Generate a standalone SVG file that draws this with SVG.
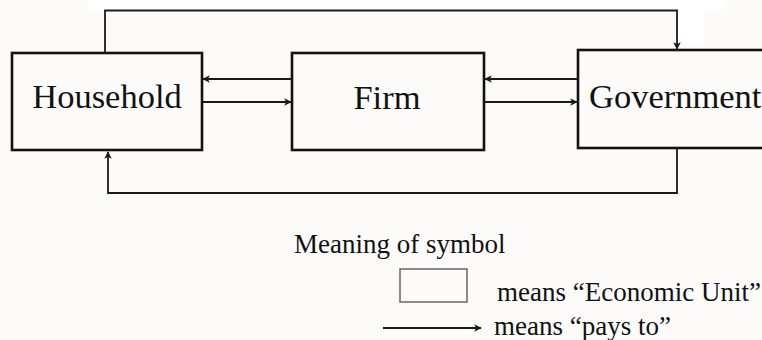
<svg xmlns="http://www.w3.org/2000/svg" width="762" height="340" viewBox="0 0 762 340">
  <style>
    .unit { fill: none; stroke: #111; stroke-width: 2.6; }
    .flow { fill: none; stroke: #1a1a1a; stroke-width: 1.8; }
    text { fill: #111; font-family: "Liberation Serif", "Times New Roman", serif; }
    .big { font-size: 34.5px; }
    .small { font-size: 27px; }
  </style>
  <defs>
    <marker id="head" viewBox="0 0 10 10" refX="9" refY="5" markerWidth="4.2" markerHeight="4.2" orient="auto" markerUnits="strokeWidth">
      <path d="M0,0 L10,5 L0,10 L2.5,5 Z" fill="#1a1a1a"/>
    </marker>
  </defs>
  <!-- paper -->
  <rect x="0" y="0" width="762" height="340" fill="#fcfbfa"/>
  <rect x="88" y="0" width="636" height="10" fill="#ffffff"/>
  <rect x="676" y="0" width="28" height="44" fill="#ffffff"/>

  <g id="household">
    <rect class="unit" x="12" y="53" width="190" height="97"/>
    <text class="big" x="107" y="108" text-anchor="middle">Household</text>
  </g>
  <g id="firm">
    <rect class="unit" x="292" y="53" width="192" height="97"/>
    <text class="big" x="387" y="109" text-anchor="middle">Firm</text>
  </g>
  <g id="government">
    <rect class="unit" x="578" y="50" width="200" height="98"/>
    <text class="big" x="589" y="108">Government</text>
  </g>

  <g id="connectors">
    <!-- Household to Government over the top -->
    <polyline class="flow" points="105,53 105,10.5 677,10.5 677,49" marker-end="url(#head)"/>
    <!-- Government to Household along the bottom -->
    <polyline class="flow" points="677,148 677,193 108,193 108,152" marker-end="url(#head)"/>
    <!-- Household and Firm -->
    <line class="flow" x1="292" y1="79" x2="203" y2="79" marker-end="url(#head)"/>
    <line class="flow" x1="203" y1="102" x2="291" y2="102" marker-end="url(#head)"/>
    <!-- Firm and Government -->
    <line class="flow" x1="578" y1="79" x2="485" y2="79" marker-end="url(#head)"/>
    <line class="flow" x1="485" y1="102" x2="577" y2="102" marker-end="url(#head)"/>
  </g>

  <g id="legend">
    <text class="small" x="294" y="253">Meaning of symbol</text>
    <rect x="400" y="269" width="67" height="33" fill="none" stroke="#666" stroke-width="1.5"/>
    <text class="small" x="497" y="301">means “Economic Unit”</text>
    <line class="flow" x1="383" y1="328" x2="481" y2="328" marker-end="url(#head)"/>
    <text class="small" x="494" y="335">means “pays to”</text>
  </g>
</svg>
